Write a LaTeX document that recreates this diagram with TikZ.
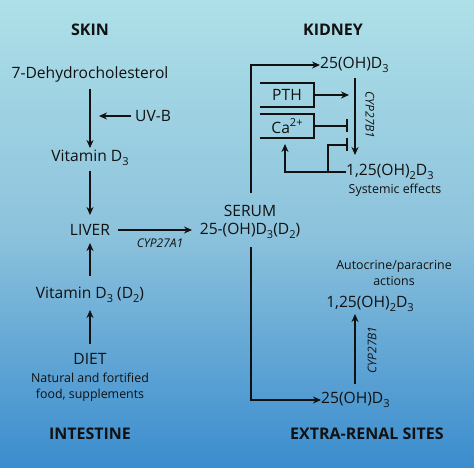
\documentclass[tikz,border=0pt]{standalone}
\usepackage{fontspec}
\setmainfont{Open Sans}
\usetikzlibrary{arrows.meta}
\definecolor{bgtop}{HTML}{AEE0E8}
\definecolor{bgmid}{HTML}{8CC2DC}
\definecolor{bgbot}{HTML}{3A8CCE}
\definecolor{ink}{HTML}{111111}
\newcommand{\mysub}[1]{\raisebox{-0.45ex}{\fontsize{11}{11}\selectfont #1}}
\newcommand{\mysup}[1]{\raisebox{0.75ex}{\fontsize{11}{11}\selectfont #1}}
\tikzset{
  lbl/.style={inner sep=0pt, text=ink, font=\fontsize{15.6}{18.5}\selectfont},
  head/.style={inner sep=0pt, text=ink, font=\fontsize{16}{19}\selectfont\bfseries},
  small/.style={inner sep=0pt, text=ink, align=center, font=\fontsize{12.4}{16.5}\selectfont},
  enz/.style={inner sep=0pt, text=ink, font=\fontsize{12}{14}\selectfont\itshape},
  conn/.style={draw=ink, line width=1.4pt, -{Stealth[length=8pt,width=7pt]}},
  inh/.style={draw=ink, line width=1.4pt, -{Bar[width=13pt,line width=1.6pt]}},
  plain/.style={draw=ink, line width=1.4pt},
}
\begin{document}
\begin{tikzpicture}[x=1pt,y=-1pt]
\shade[top color=bgtop, bottom color=bgbot, middle color=bgmid] (0,0) rectangle (474,468);
\useasboundingbox (0,0) rectangle (474,468);
% left column
\node[head] (skin) at (90,30) {SKIN};
\node[lbl] (dhc) at (90,74) {7-Dehydrocholesterol};
\node[lbl, anchor=west] (uvb) at (135,116) {UV-B};
\coordinate (uvbtip) at (99,116);
\node[lbl] (vitd3) at (90,158) {Vitamin D\mysub{3}};
\node[lbl] (liver) at (90,230) {LIVER};
\node[enz] (cypa) at (160,243) {CYP27A1};
\node[lbl, align=center] (serum) at (250,222) {SERUM\\25-(OH)D\mysub{3}(D\mysub{2})};
\node[lbl] (vitd3d2) at (90,295) {Vitamin D\mysub{3} (D\mysub{2})};
\node[lbl] (diet) at (90,359) {DIET};
\node[small] (food) at (90,387) {Natural and fortified\\food, supplements};
\node[head] (intestine) at (90,434) {INTESTINE};
% kidney
\node[head] (kidney) at (333,30) {KIDNEY};
\node[lbl, anchor=west] (k25) at (320,65) {25(OH)D\mysub{3}};
\node[lbl] (pth) at (287,95) {PTH};
\node[lbl] (ca) at (287,126) {Ca\mysup{2+}};
\node[lbl, anchor=west] (k125) at (346,172) {1,25(OH)\mysub{2}D\mysub{3}};
\node[small] (systemic) at (395,190) {Systemic effects};
\node[enz, rotate=-90] (cypk) at (370,115) {CYP27B1};
\coordinate (ktop) at (355,78);
\coordinate (kbot) at (355,155);
% extra-renal
\node[small] (auto) at (394,273) {Autocrine/paracrine\\actions};
\node[lbl] (e125) at (370,304) {1,25(OH)\mysub{2}D\mysub{3}};
\node[lbl, anchor=west] (e25) at (321,400) {25(OH)D\mysub{3}};
\node[enz, rotate=90] (cype) at (372,350) {CYP27B1};
\node[head] (extra) at (367,434) {EXTRA-RENAL SITES};
% boxes (open on the left)
\draw[plain] (260,83) -- (314,83) -- (314,107) -- (260,107);
\draw[plain] (260,114) -- (314,114) -- (314,138) -- (260,138);
\coordinate (pthr) at (314,95);
\coordinate (car) at (314,126);
% connectors
\draw[conn] (dhc.south |- 0,89) -- (vitd3.north |- 0,148);
\draw[conn] (uvb.west) ++(-4,0) -- (uvbtip);
\draw[conn] (vitd3.south |- 0,171) -- (liver.north |- 0,215);
\draw[conn] (liver.east) ++(8,0) -- (192,230);
\draw[conn] (vitd3d2.north |- 0,276) -- (liver.south |- 0,243);
\draw[conn] (diet.north |- 0,344) -- (vitd3d2.south |- 0,310);
\draw[conn] (251,193) -- (251,65) -- (k25.west);
\draw[conn] (251,247) -- (251,400) -- (e25.west);
\draw[conn] (ktop) -- (kbot);
\draw[conn] (pthr) -- (349,95);
\draw[inh] (car) -- (348,126);
\draw[conn] (k125.west) -- (285,172) -- (285,144);
\draw[inh] (328,172) -- (328,145) -- (348,145);
\draw[conn] (355,384) -- (355,314);
\end{tikzpicture}
\end{document}
